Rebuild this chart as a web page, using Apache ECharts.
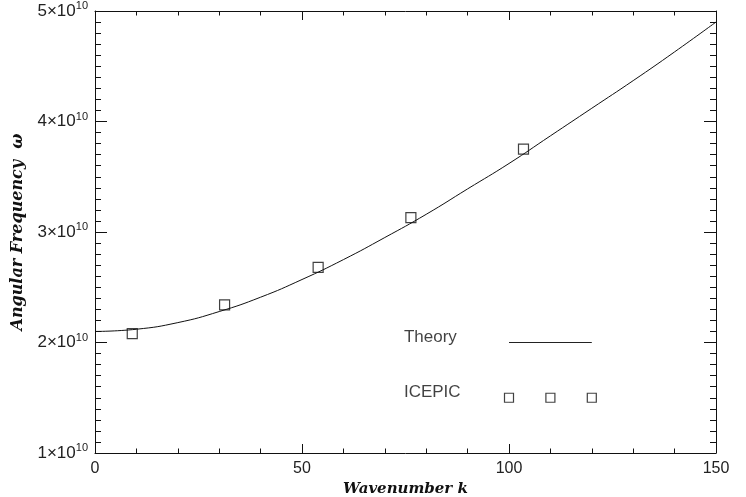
<!DOCTYPE html>
<html>
<head>
<meta charset="utf-8">
<script src="https://cdn.jsdelivr.net/npm/echarts@6/dist/echarts.min.js"></script>
<style>html,body{margin:0;padding:0;background:#fff}#c{width:746px;height:497px}</style>
</head>
<body>
<div id="c"></div>
<script>
// Theory curve (k, omega)
const theoryK = [0, 10, 20, 30, 40, 50, 60, 70, 80, 90, 100, 110, 120, 130, 140, 150];
const theoryW = [2.10e10, 2.12e10, 2.18e10, 2.28e10, 2.41e10, 2.57e10, 2.75e10, 2.95e10, 3.16e10, 3.39e10, 3.62e10, 3.87e10, 4.12e10, 4.37e10, 4.63e10, 4.90e10];
// ICEPIC simulation points
const icepicK = [9, 31.3, 53.9, 76.3, 103.5];
const icepicW = [2.08e10, 2.34e10, 2.68e10, 3.13e10, 3.75e10];
// x tick labels
const xTicks = [0, 50, 100, 150];
// y tick mantissas (x 10^10)
const yTicks = [1, 2, 3, 4, 5];
// in-plot legend (data coordinates)
const legendLineK = [100, 120];
const legendLineW = 2.0e10;
const legendSymK = [100, 110, 120];
const legendSymW = 1.5e10;
const legendTextK = 74.5;
const legendTextW = [2.05e10, 1.55e10];
const legendNames = ['Theory', 'ICEPIC'];

const chart = echarts.init(document.getElementById('c'));
const axisCol = '#111';
const tickFont = 'Liberation Sans';
const nameFont = 'DejaVu Serif';

const xBase = {
  type: 'value', min: 0, max: 150, interval: 50,
  axisLine: {show: true, onZero: false, lineStyle: {color: axisCol, width: 1}},
  axisTick: {show: true, inside: true, length: 9, lineStyle: {color: axisCol}},
  minorTick: {show: true, splitNumber: 5, length: 4.5, lineStyle: {color: axisCol}},
  splitLine: {show: false}, minorSplitLine: {show: false}
};
const yBase = {
  type: 'value', min: 1e10, max: 5e10, interval: 1e10,
  axisLine: {show: true, onZero: false, lineStyle: {color: axisCol, width: 1}},
  axisTick: {show: true, inside: true, length: 12, lineStyle: {color: axisCol}},
  minorTick: {show: true, splitNumber: 10, length: 6, lineStyle: {color: axisCol}},
  splitLine: {show: false}, minorSplitLine: {show: false}
};

chart.setOption({
  animation: false,
  backgroundColor: '#fff',
  grid: {left: 95, right: 30, top: 11, bottom: 44, containLabel: false, outerBoundsMode: 'none'},
  xAxis: [
    Object.assign({}, xBase, {
      position: 'bottom',
      axisLabel: {show: true, margin: 8, fontFamily: tickFont, fontSize: 16, color: '#222',
        formatter: v => xTicks.includes(v) ? String(v) : ''},
      name: 'Wavenumber k', nameLocation: 'middle', nameGap: 28,
      nameTextStyle: {fontFamily: nameFont, fontStyle: 'italic', fontWeight: 'bold', fontSize: 15, color: '#111'}
    }),
    Object.assign({}, xBase, {position: 'top', axisLabel: {show: false}})
  ],
  yAxis: [
    Object.assign({}, yBase, {
      position: 'left',
      axisLabel: {show: true, margin: 7, fontFamily: tickFont, fontSize: 17, color: '#222',
        formatter: v => {
          const m = Math.round(v / 1e10);
          return yTicks.includes(m) ? '{b|' + m + '×10}{s|10}' : '';
        },
        rich: {
          b: {fontFamily: tickFont, fontSize: 17, color: '#222'},
          s: {fontFamily: tickFont, fontSize: 11, color: '#222', padding: [0, 0, 10, 0]}
        }
      },
      name: 'Angular Frequency  ω', nameLocation: 'middle', nameGap: 69,
      nameTextStyle: {fontFamily: nameFont, fontStyle: 'italic', fontWeight: 'bold', fontSize: 16, color: '#111'}
    }),
    Object.assign({}, yBase, {position: 'right', axisLabel: {show: false}})
  ],
  series: [
    {
      type: 'line', name: 'Theory', smooth: true, symbol: 'none',
      data: theoryK.map((k, i) => [k, theoryW[i]]),
      lineStyle: {color: '#111', width: 1}
    },
    {
      type: 'scatter', name: 'ICEPIC', symbol: 'rect', symbolSize: 10,
      data: icepicK.map((k, i) => [k, icepicW[i]]),
      itemStyle: {color: 'rgba(0,0,0,0)', borderColor: '#111', borderWidth: 1.2}
    },
    {
      type: 'line', symbol: 'none', silent: true,
      data: legendLineK.map(k => [k, legendLineW]),
      lineStyle: {color: '#222', width: 1}
    },
    {
      type: 'scatter', symbol: 'rect', symbolSize: 9, silent: true,
      data: legendSymK.map(k => [k, legendSymW]),
      itemStyle: {color: 'rgba(0,0,0,0)', borderColor: '#111', borderWidth: 1.2}
    },
    {
      type: 'scatter', symbolSize: 1, silent: true,
      itemStyle: {color: 'rgba(0,0,0,0)'},
      data: legendNames.map((n, i) => ({value: [legendTextK, legendTextW[i]], name: n})),
      label: {show: true, position: 'right', distance: 0, formatter: p => p.name,
        fontFamily: 'Liberation Sans', fontSize: 17, color: '#111'}
    }
  ]
});
</script>
</body>
</html>
